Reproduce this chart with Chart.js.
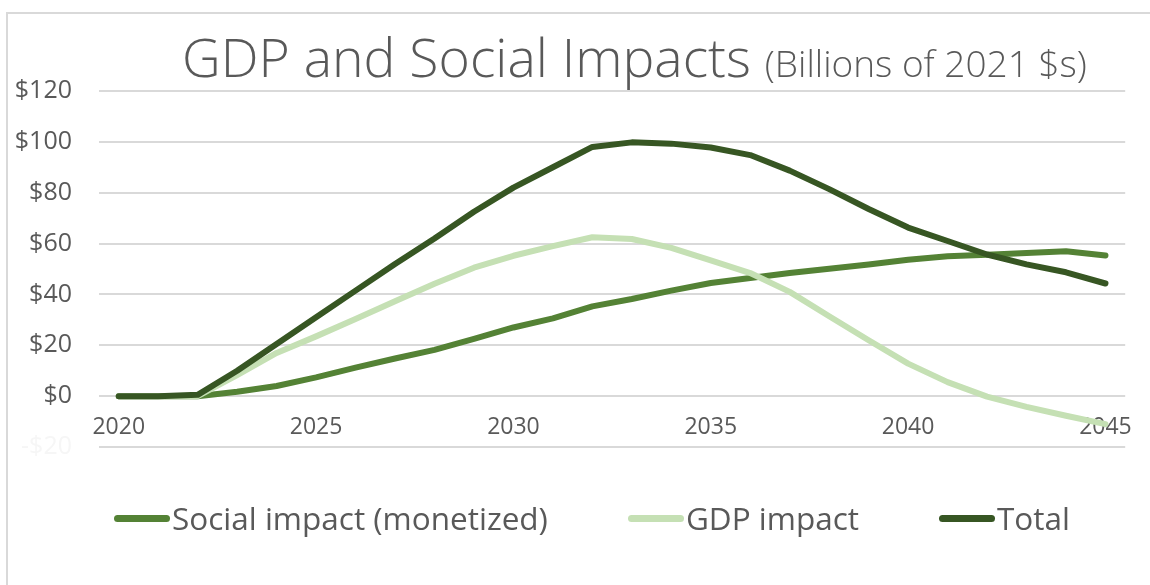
<!DOCTYPE html>
<html>
<head>
<meta charset="utf-8">
<title>GDP and Social Impacts</title>
<script src="https://cdn.jsdelivr.net/npm/chart.js@4"></script>
<style>
    html, body {
        margin: 0;
        padding: 0;
        background: #ffffff;
        overflow: hidden;
    }
    .chart-wrap {
        position: relative;
        width: 1150px;
        height: 585px;
        font-family: 'Open Sans', sans-serif;
        color: #595959;
    }
    .chart-frame {
        position: absolute;
        left: 6px;
        top: 12px;
        right: -10px;
        bottom: -10px;
        border-left: 2px solid #d9d9d9;
        border-top: 2px solid #d9d9d9;
    }
    .chart-title {
        position: absolute;
        left: 182px;
        top: 23px;
        font-size: 53.5px;
        font-weight: 300;
        line-height: 68px;
        white-space: nowrap;
    }
    .chart-title span {
        font-size: 37px;
    }
    #impactChart {
        position: absolute;
        left: 0;
        top: 0;
    }
    .legend {
        position: absolute;
        left: 114px;
        top: 497px;
        display: flex;
        align-items: center;
        gap: 80px;
        font-size: 31.5px;
        line-height: 42px;
        white-space: nowrap;
    }
    .legend-item {
        display: flex;
        align-items: center;
    }
    .legend-swatch {
        width: 56px;
        height: 7px;
        border-radius: 4px;
        margin-right: 2px;
    }
</style>
</head>
<body>
<div class="chart-wrap">
    <div class="chart-frame"></div>
    <canvas id="impactChart" width="1150" height="585"></canvas>
    <div class="chart-title">GDP and Social Impacts <span>(Billions of 2021 $s)</span></div>
    <div class="legend" id="impactLegend"></div>
</div>

<script>
// Yearly values, billions of 2021 dollars
const years = [2020, 2021, 2022, 2023, 2024, 2025, 2026, 2027, 2028, 2029, 2030, 2031, 2032,
               2033, 2034, 2035, 2036, 2037, 2038, 2039, 2040, 2041, 2042, 2043, 2044, 2045];

const socialImpact = [0, 0, 0, 1.7, 4, 7.4, 11.2, 14.8, 18.2, 22.5, 27, 30.6, 35.3,
                      38.2, 41.5, 44.5, 46.5, 48.4, 50.1, 51.8, 53.6, 55, 55.6, 56.3, 57, 55.3];

const gdpImpact = [0, 0, 0, 8.3, 17, 23.5, 30.3, 37.3, 44.2, 50.5, 55.2, 59, 62.5,
                   61.8, 58.3, 53.4, 48.4, 41, 31.4, 22, 12.8, 5.5, -0.2, -4.2, -7.7, -11];

const totalImpact = [0, 0, 0.5, 10, 20.5, 31, 41.5, 52, 62, 72.5, 82, 90, 98,
                     99.8, 99.3, 97.8, 94.8, 88.7, 81.4, 73.6, 66.3, 61, 55.7, 51.8, 48.7, 44.3];

const yearTicks = [2020, 2025, 2030, 2035, 2040, 2045];
const valueTicks = [-20, 0, 20, 40, 60, 80, 100, 120];

const seriesNames = ['Social impact (monetized)', 'GDP impact', 'Total'];
const seriesColors = ['#548235', '#c5e0b4', '#375623'];

document.addEventListener('DOMContentLoaded', function() {
    loadImpactChart();
    loadImpactLegend();
});

function money(value) {
    return (value < 0 ? '-$' : '$') + Math.abs(value);
}

function lineDataset(index, values) {
    return {
        label: seriesNames[index],
        data: values,
        borderColor: seriesColors[index],
        backgroundColor: seriesColors[index],
        borderWidth: 6,
        borderCapStyle: 'round',
        borderJoinStyle: 'round',
        pointRadius: 0,
        tension: 0,
        // Total sits on top, social impact underneath
        order: 2 - index
    };
}

function loadImpactChart() {
    const ctx = document.getElementById('impactChart');
    if (!ctx) return;

    new Chart(ctx, {
        type: 'line',
        data: {
            labels: years,
            datasets: [
                lineDataset(0, socialImpact),
                lineDataset(1, gdpImpact),
                lineDataset(2, totalImpact)
            ]
        },
        options: {
            responsive: false,
            animation: false,
            layout: {
                padding: { top: 91, right: 12, bottom: 138, left: 0 }
            },
            plugins: {
                legend: { display: false },
                tooltip: { enabled: false }
            },
            scales: {
                x: {
                    type: 'category',
                    offset: true,
                    position: { y: 0 },
                    grid: { display: false, drawTicks: false },
                    border: { display: false },
                    afterFit: function(scale) {
                        scale.height = 0;
                    },
                    ticks: {
                        autoSkip: false,
                        maxRotation: 0,
                        padding: 18,
                        color: '#595959',
                        font: { family: 'Open Sans', size: 23 },
                        callback: function(value, index) {
                            const year = years[index];
                            return yearTicks.includes(year) ? String(year) : '';
                        }
                    }
                },
                y: {
                    min: valueTicks[0],
                    max: valueTicks[valueTicks.length - 1],
                    afterFit: function(scale) {
                        scale.width = 99;
                    },
                    afterBuildTicks: function(scale) {
                        scale.ticks = valueTicks.map(v => ({ value: v }));
                    },
                    grid: {
                        color: '#d9d9d9',
                        lineWidth: 2,
                        drawTicks: false
                    },
                    border: { display: false },
                    ticks: {
                        padding: 27,
                        font: { family: 'Open Sans', size: 25 },
                        color: function(c) {
                            return c.tick && c.tick.value < 0 ? '#f6f6f6' : '#595959';
                        },
                        callback: function(value) {
                            return money(value);
                        }
                    }
                }
            }
        }
    });
}

function loadImpactLegend() {
    const container = document.getElementById('impactLegend');
    if (!container) return;

    container.innerHTML = seriesNames.map((name, i) => `
        <div class="legend-item">
            <span class="legend-swatch" style="background:${seriesColors[i]}"></span>
            <span>${name}</span>
        </div>
    `).join('');
}
</script>
</body>
</html>
